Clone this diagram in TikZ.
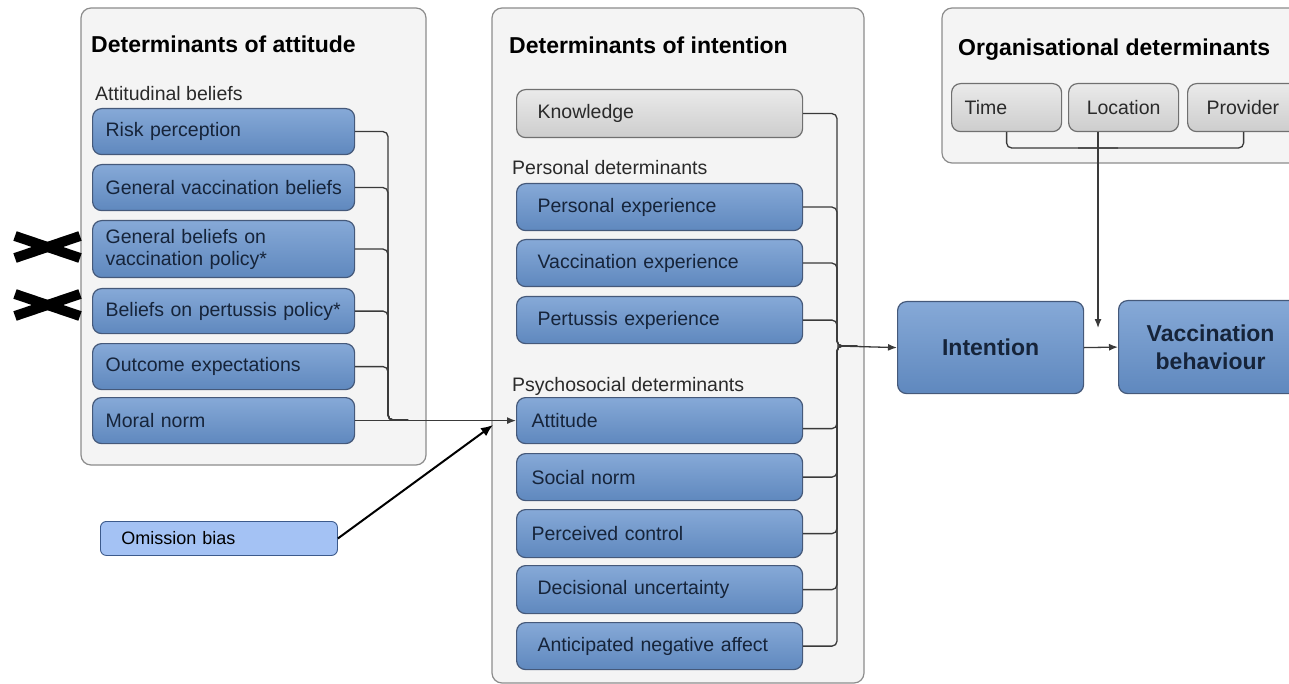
\documentclass[tikz,border=0pt]{standalone}
\usepackage{fontspec}
\setmainfont{Liberation Sans}
\usetikzlibrary{arrows.meta}
\definecolor{panelfill}{HTML}{F4F4F4}
\definecolor{panelline}{HTML}{8C8C8C}
\definecolor{bluetop}{HTML}{86A9D7}
\definecolor{bluebot}{HTML}{5F88BE}
\definecolor{blueline}{HTML}{45597A}
\definecolor{bluetext}{HTML}{16243A}
\definecolor{graytop}{HTML}{EAEAEA}
\definecolor{graybot}{HTML}{CDCDCD}
\definecolor{grayline}{HTML}{707070}
\definecolor{linecol}{HTML}{3A3A3A}
\definecolor{omitfill}{HTML}{A4C2F4}
\definecolor{omitline}{HTML}{3C5A8C}
\definecolor{subtext}{HTML}{2A2A2A}
\tikzset{
  panel/.style={draw=panelline, fill=panelfill, rounded corners=10pt, line width=1.2pt},
  bbox/.style={draw=blueline, top color=bluetop, bottom color=bluebot, rounded corners=9pt,
    line width=1.2pt, text=bluetext, font=\fontsize{19.5}{22}\selectfont, anchor=north west,
    align=left, inner xsep=13pt, inner ysep=0pt},
  gbox/.style={bbox, draw=grayline, top color=graytop, bottom color=graybot, text=subtext},
  bigbox/.style={draw=blueline, top color=bluetop, bottom color=bluebot, rounded corners=9pt,
    line width=1.2pt, text=bluetext, font=\fontsize{23}{28}\selectfont\bfseries, anchor=north west,
    align=center, inner sep=0pt},
  title/.style={anchor=base west, font=\fontsize{23}{27}\selectfont\bfseries, text=black, inner sep=0pt},
  sub/.style={anchor=base west, font=\fontsize{19.5}{22}\selectfont, text=subtext, inner sep=0pt},
  con/.style={draw=linecol, line width=1.3pt, rounded corners=5pt},
  arr/.style={draw=linecol, line width=1.3pt, -{Latex[length=9pt,width=7pt]}},
  cross/.style={line width=10pt, line cap=butt, black},
}
\begin{document}
\begin{tikzpicture}[x=1pt,y=-1pt]
\useasboundingbox (0,0) rectangle (1289,684);
\clip (0,0) rectangle (1289,684);
% panels
\draw[panel] (81,8) rectangle (426,465);
\draw[panel] (492,8) rectangle (864,683);
\draw[panel] (942,8) rectangle (1320,163);
% titles
\node[title] (t1) at (91,53) {Determinants of attitude};
\node[title] (t2) at (509,54) {Determinants of intention};
\node[title] (t3) at (958,56) {Organisational determinants};
\node[sub] (s1) at (95,101) {Attitudinal beliefs};
\node[sub] (s2) at (512,175) {Personal determinants};
\node[sub] (s3) at (512,391) {Psychosocial determinants};
% left boxes
\node[bbox, text width=236pt, minimum height=46pt] (risk) at (92,108) {Risk perception};
\node[bbox, text width=236pt, minimum height=46pt] (genvac) at (92,164) {\mbox{General vaccination beliefs}};
\node[bbox, text width=236pt, minimum height=57pt] (genpol) at (92,220) {General beliefs on\\vaccination policy*};
\node[bbox, text width=236pt, minimum height=45pt] (pertpol) at (92,288) {\mbox{Beliefs on pertussis policy*}};
\node[bbox, text width=236pt, minimum height=46pt] (outcome) at (92,343) {Outcome expectations};
\node[bbox, text width=236pt, minimum height=46pt] (moral) at (92,397) {Moral norm};
% middle boxes
\node[gbox, inner xsep=21pt, text width=244pt, minimum height=48pt] (know) at (516,89) {Knowledge};
\node[bbox, inner xsep=21pt, text width=244pt, minimum height=47pt] (persexp) at (516,183) {Personal experience};
\node[bbox, inner xsep=21pt, text width=244pt, minimum height=47pt] (vacexp) at (516,239) {Vaccination experience};
\node[bbox, inner xsep=21pt, text width=244pt, minimum height=47pt] (pertexp) at (516,296) {Pertussis experience};
\node[bbox, inner xsep=15pt, text width=256pt, minimum height=46pt] (att) at (516,397) {Attitude};
\node[bbox, inner xsep=15pt, text width=256pt, minimum height=47pt] (social) at (516,453) {Social norm};
\node[bbox, inner xsep=15pt, text width=256pt, minimum height=48pt] (percon) at (516,509) {Perceived control};
\node[bbox, inner xsep=21pt, text width=244pt, minimum height=48pt] (decun) at (516,565) {Decisional uncertainty};
\node[bbox, inner xsep=21pt, text width=244pt, minimum height=47pt] (antic) at (516,622) {\mbox{Anticipated negative affect}};
% organisational boxes
\node[gbox, inner xsep=0pt, text width=110pt, minimum height=48pt, align=left] (time) at (951,83) {\hspace*{13pt}Time};
\node[gbox, inner xsep=0pt, text width=110pt, minimum height=48pt, align=center] (loc) at (1068,83) {Location};
\node[gbox, inner xsep=0pt, text width=112pt, minimum height=48pt, align=left] (prov) at (1187,83) {\hspace*{19pt}Provider};
% intention / behaviour
\node[bigbox, minimum width=186pt, minimum height=92pt] (int) at (897,301) {Intention};
\node[bigbox, minimum width=184pt, minimum height=93pt] (vb) at (1118,300) {Vaccination\\behaviour};
% omission bias
\node[draw=omitline, fill=omitfill, rounded corners=6pt, line width=0.9pt, anchor=north west,
  minimum width=237pt, minimum height=34pt, inner xsep=21pt, text width=195pt, align=left,
  font=\fontsize{18}{21}\selectfont] (omit) at (100,521) {Omission bias};
% crosses
\draw[cross] (15,236) -- (80,258);
\draw[cross] (15,258) -- (80,236);
\draw[cross] (15,294) -- (80,316);
\draw[cross] (15,316) -- (80,294);
% junction coordinates
\coordinate (jl) at (388,420);
\coordinate (jm) at (837,346);
\coordinate (jo) at (1098,148);
\coordinate (modtip) at (1098,328);
\coordinate (omtip) at (493,425);
% left connectors
\foreach \n in {risk,genvac,genpol,pertpol,outcome}
  \draw[con] (\n.east) -| (jl) -- ++(20,0);
\draw[arr] (moral.east) -- (att.west);
% middle connectors
\foreach \n in {know,persexp,vacexp,pertexp,social,percon,decun,antic}
  \draw[con] (\n.east) -| (jm) -- ++(20,0);
\draw[con] ([yshift=-8pt]att.east) -| (jm) -- ++(20,0);
\draw[arr] (jm) -- (int.west);
% organisational connectors
\draw[con] (time.south) |- (jo) -- ++(20,0);
\draw[con] (prov.south) |- (jo) -- ++(-20,0);
\draw[arr] (loc.south -| jo) -- (modtip);
\draw[arr] (int.east) -- (vb.west);
% omission bias arrow
\draw[black, line width=2pt, -{Latex[length=12pt,width=10pt]}] (omit.east) -- (omtip);
\end{tikzpicture}
\end{document}
